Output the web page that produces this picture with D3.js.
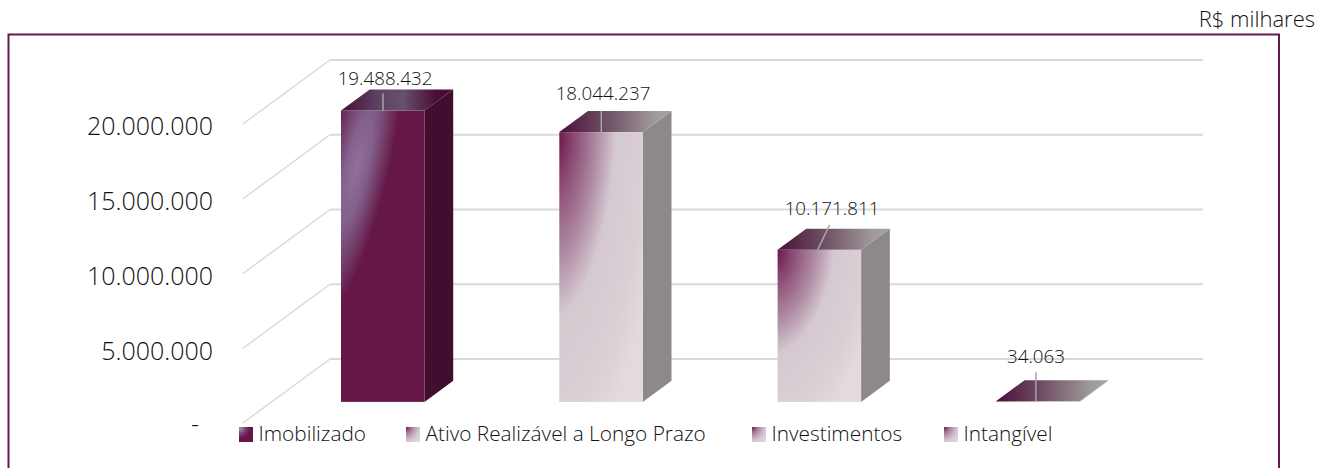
<!DOCTYPE html>
<html><head><meta charset="utf-8">
<script src="https://cdn.jsdelivr.net/npm/d3@7"></script>
<style>
html,body{margin:0;padding:0;background:#fff}
svg{display:block}
text{font-family:"Open Sans",sans-serif;font-weight:300;fill:#111}
</style></head><body><svg id="c" width="1330" height="468"></svg>
<script>
const categories = ["Imobilizado","Ativo Realizável a Longo Prazo","Investimentos","Intangível"];
const values = [19488432,18044237,10171811,34063];
const valueTicks = [0,5000000,10000000,15000000,20000000];
const unitLabel = "R$ milhares";

const svg = d3.select("#c");
const defs = svg.append("defs");
const ptBR = d3.formatLocale({decimal:",",thousands:".",grouping:[3],currency:["R$",""]});
const fmt = ptBR.format(",d");

// 3-D frame
const floorFrontY = 423, depthX = 87, depthY = 64, wallFrontX = 243;
const barZ0 = 0.33, barZ1 = 0.66;
const h = d3.scaleLinear().domain([0,20000000]).range([0,299]);
const yFront = d3.scaleLinear().domain([0,20000000]).range([floorFrontY,floorFrontY-299]);
const x = d3.scaleBand().domain(categories).range([341,341+3*218.3+83.5]).paddingInner(0.6175).paddingOuter(0);
const gridRight = 1203;

// Gradients
function radial(id, tf, stops){
  const g = defs.append("radialGradient").attr("id",id).attr("cx",0).attr("cy",0).attr("r",1).attr("fx",0).attr("fy",0)
    .attr("gradientUnits","objectBoundingBox").attr("gradientTransform",tf);
  stops.forEach(s=>g.append("stop").attr("offset",s[0]).attr("stop-color",s[1]));
}
function linear(id, stops){
  const g = defs.append("linearGradient").attr("id",id).attr("x1",0).attr("x2",1).attr("y1",0).attr("y2",0);
  stops.forEach(s=>g.append("stop").attr("offset",s[0]).attr("stop-color",s[1]));
}
radial("frontDark","translate(.18,.2) skewX(-38) scale(.4,.52)",[[0,"#8f7099"],[.35,"#84608c"],[.7,"#723a66"],[1,"#651747"]]);
radial("frontLight","translate(0,.02) skewX(-10) scale(1.3,1.3)",[[0,"#6d1a4f"],[.12,"#87456f"],[.34,"#ae89a2"],[.52,"#d5c9d0"],[.8,"#d9cfd5"],[1,"#e2dade"]]);
linear("topDark",[[0,"#4a0f37"],[.35,"#5f4465"],[.55,"#66506e"],[.85,"#4a0e35"],[1,"#4a0d34"]]);
linear("topLight",[[0,"#4a0f37"],[.45,"#735568"],[.85,"#a09a9c"],[1,"#a5a0a2"]]);
radial("swDark","translate(.1,.1) scale(.9,.9)",[[0,"#a98db0"],[.4,"#7b3f6e"],[.75,"#651747"],[1,"#651747"]]);
radial("swLight","translate(0,0) scale(1.35,1.35)",[[0,"#6d1a4f"],[.35,"#ae89a2"],[.7,"#d5c9d0"],[1,"#e2dade"]]);

// Frame (open at the bottom of the picture)
svg.append("path").attr("d","M8.5,468V34.5H1279V468")
  .attr("fill","none").attr("stroke","#651a4a").attr("stroke-width",2);

svg.append("text").attr("x",1315).attr("y",27).attr("text-anchor","end").attr("font-size",22).text(unitLabel);

// Gridlines
const grid = svg.append("g").attr("fill","none").attr("stroke","#d9d9d9");
grid.selectAll("path.back").data(valueTicks).join("path").attr("class","back").attr("stroke-width",2)
  .attr("d",d=>{const yf=yFront(d);return `M${wallFrontX+depthX},${yf-depthY}L${gridRight},${yf-depthY}`;});
grid.selectAll("path.side").data(valueTicks).join("path").attr("class","side").attr("stroke-width",1.5)
  .attr("d",d=>{const yf=yFront(d);return `M${wallFrontX},${yf}L${wallFrontX+depthX},${yf-depthY}`;});

// Axis labels
const axis = d3.axisLeft(yFront).tickValues(valueTicks).tickSize(0).tickPadding(0)
  .tickFormat(d=>d===0?"-":fmt(d));
const ag = svg.append("g").attr("transform","translate(213,0)").call(axis);
ag.select(".domain").remove();
ag.selectAll("text").attr("font-size",25).style("font-family",'"Open Sans",sans-serif').style("font-weight",300).style("fill","#111")
  .attr("dx",d=>d===0?-14:0).attr("dy",d=>d===0?"0.39em":"0.43em");

// Bars
const bar = svg.append("g").selectAll("g").data(categories.map((c,i)=>({c,v:values[i],i}))).join("g");
const dx = depthX*(barZ1-barZ0), dy = depthY*(barZ1-barZ0);
const base = floorFrontY - depthY*barZ0;
function pts(d){const l=x(d.c),w=x.bandwidth(),t=base-h(d.v);return {l,r:l+w,t,b:base};}
bar.append("path").attr("fill",d=>d.i===0?"#420e30":"#8d8889")
  .attr("d",d=>{const p=pts(d);return `M${p.r},${p.t}L${p.r+dx},${p.t-dy}L${p.r+dx},${p.b-dy}L${p.r},${p.b}Z`;});
bar.append("rect").attr("fill",d=>d.i===0?"url(#frontDark)":"url(#frontLight)")
  .attr("x",d=>pts(d).l).attr("y",d=>pts(d).t).attr("width",x.bandwidth()).attr("height",d=>Math.max(h(d.v),.5));
bar.append("path").attr("fill",d=>d.i===0?"url(#topDark)":"url(#topLight)")
  .attr("d",d=>{const p=pts(d);return `M${p.l},${p.t}L${p.l+dx},${p.t-dy}L${p.r+dx},${p.t-dy}L${p.r},${p.t}Z`;});

// Data labels + leaders
const labelLayout = [
 {cx:385,up:26,lx0:0,ly0:-17},
 {cx:603,up:32,lx0:0,ly0:-21},
 {cx:832,up:35,lx0:12,ly0:-25},
 {cx:1036,up:38,lx0:0,ly0:-29}];
const leaderBase = [42,42,40,40];
bar.append("path").attr("fill","none").attr("stroke","#a6a6a6").attr("stroke-width",1.5)
  .attr("d",d=>{const p=pts(d),L=labelLayout[d.i],bx=p.l+leaderBase[d.i];return `M${bx},${p.t}L${bx+L.lx0},${p.t+L.ly0}`;});
bar.append("text").attr("text-anchor","middle").attr("font-size",18.8)
  .attr("x",d=>labelLayout[d.i].cx).attr("y",d=>pts(d).t-labelLayout[d.i].up).text(d=>fmt(d.v));

// Legend
const legendX = [239,406,752,944];
const lg = svg.append("g").selectAll("g").data(categories).join("g").attr("transform",(d,i)=>`translate(${legendX[i]},427)`);
lg.append("rect").attr("width",14).attr("height",15).attr("fill",(d,i)=>i===0?"url(#swDark)":"url(#swLight)");
lg.append("text").attr("x",19.5).attr("y",14).attr("font-size",20.8).text(d=>d);
</script></body></html>
